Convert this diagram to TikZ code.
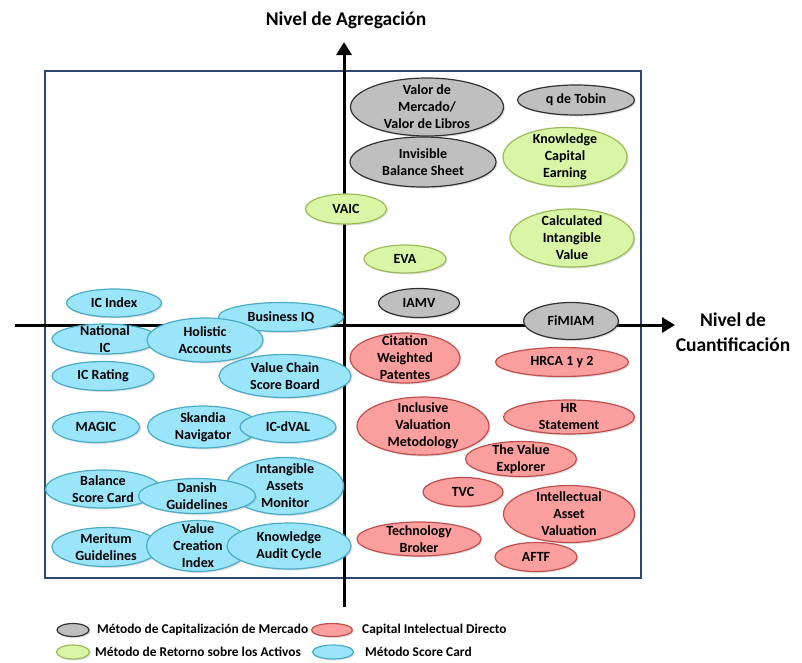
\documentclass[tikz,border=0pt]{standalone}
\usepackage{fontspec}
\setmainfont{Carlito}
\usetikzlibrary{shapes.geometric,shadows,arrows.meta}

\definecolor{grisfill}{RGB}{191,191,191}
\definecolor{grisdraw}{RGB}{50,50,50}
\definecolor{verdefill}{RGB}{217,246,166}
\definecolor{verdedraw}{RGB}{155,187,89}
\definecolor{rojofill}{RGB}{250,158,158}
\definecolor{rojodraw}{RGB}{192,80,77}
\definecolor{azulfill}{RGB}{155,229,250}
\definecolor{azuldraw}{RGB}{75,172,198}
\definecolor{marcoazul}{RGB}{46,74,110}

\tikzset{
  metodo/.style={ellipse, line width=1.2pt, inner sep=0pt,
    drop shadow={opacity=0.25, shadow xshift=1.5pt, shadow yshift=-1.5pt}},
  mercado/.style={metodo, fill=grisfill, draw=grisdraw},
  retorno/.style={metodo, fill=verdefill, draw=verdedraw},
  directo/.style={metodo, fill=rojofill, draw=rojodraw},
  score/.style={metodo, fill=azulfill, draw=azuldraw},
  txt/.style={align=center, inner sep=0pt,
    font=\fontsize{14}{17}\selectfont\bfseries},
  eje/.style={line width=3pt, -{Triangle[width=15pt,length=13pt]}},
  titulo/.style={align=center, inner sep=0pt,
    font=\fontsize{19.5}{25}\selectfont\bfseries},
  leyenda/.style={anchor=west, inner sep=0pt,
    font=\fontsize{13.4}{16}\selectfont\bfseries},
}

\begin{document}
\begin{tikzpicture}[x=1pt, y=-1pt]
    \useasboundingbox (0,0) rectangle (802,662);
    \draw[marcoazul, line width=2.6pt] (45,71) rectangle (641,578);

    \coordinate (ybot) at (344,607);
    \coordinate (ytop) at (344,42);
    \coordinate (xleft) at (15,325);
    \coordinate (xright) at (675,325);
    \draw[eje] (ybot) -- (ytop);
    \draw[eje] (xleft) -- (xright);
    \node[titulo] (agreg) at (346,20) {Nivel de Agregación};
    \node[titulo] (cuant) at (733,332) {Nivel de\\Cuantificación};

    \node[mercado, minimum width=153pt, minimum height=58pt, label={[txt]center:Valor de\\Mercado/\\Valor de Libros}] (vmvl) at (427,107) {};
    \node[mercado, minimum width=117pt, minimum height=30pt, label={[txt]center:q de Tobin}] (qtobin) at (576,100) {};
    \node[mercado, minimum width=146pt, minimum height=50pt, label={[txt]center:Invisible\\Balance Sheet}] (ibs) at (423,162) {};
    \node[mercado, minimum width=81pt, minimum height=29pt, label={[txt]center:IAMV}] (iamv) at (419,303) {};
    \node[mercado, minimum width=95pt, minimum height=37pt, label={[txt]center:FiMIAM}] (fimiam) at (571,321) {};

    \node[retorno, minimum width=124pt, minimum height=59pt, label={[txt]center:Knowledge\\Capital\\Earning}] (kce) at (565,157) {};
    \node[retorno, minimum width=81pt, minimum height=30pt, label={[txt]center:VAIC}] (vaic) at (346,209) {};
    \node[retorno, minimum width=124pt, minimum height=58pt, label={[txt]center:Calculated\\Intangible\\Value}] (civ) at (572,238) {};
    \node[retorno, minimum width=82pt, minimum height=28pt, label={[txt]center:EVA}] (eva) at (405,259) {};

    \node[directo, minimum width=110pt, minimum height=50pt, label={[txt]center:Citation\\Weighted\\Patentes}] (cwp) at (405,358) {};
    \node[directo, minimum width=133pt, minimum height=29pt, label={[txt]center:HRCA 1 y 2}] (hrca) at (562,362) {};
    \node[directo, minimum width=132pt, minimum height=58pt, label={[txt]center:Inclusive\\Valuation\\Metodology}] (ivm) at (423,426) {};
    \node[directo, minimum width=131pt, minimum height=34pt, label={[txt]center:HR\\Statement}] (hrs) at (569,417) {};
    \node[directo, minimum width=111pt, minimum height=35pt, label={[txt]center:The Value\\Explorer}] (tve) at (521,459) {};
    \node[directo, minimum width=80pt, minimum height=29pt, label={[txt]center:TVC}] (tvc) at (463,492) {};
    \node[directo, minimum width=131pt, minimum height=57pt, label={[txt]center:Intellectual\\Asset\\Valuation}] (iav) at (569,514) {};
    \node[directo, minimum width=124pt, minimum height=34pt, label={[txt]center:Technology\\Broker}] (tb) at (419,539) {};
    \node[directo, minimum width=82pt, minimum height=29pt, label={[txt]center:AFTF}] (aftf) at (536,557) {};

    \node[score, minimum width=95pt, minimum height=28pt, label={[txt]center:IC Index}] (icindex) at (114,303) {};
    \node[score, minimum width=125pt, minimum height=29pt, label={[txt]center:Business IQ}] (biq) at (281,317) {};
    \node[score, minimum width=106pt, minimum height=30pt, label={[txt]center:National\\IC}] (nic) at (105,339) {};
    \node[score, minimum width=116pt, minimum height=44pt, label={[txt]center:Holistic\\Accounts}] (ha) at (205,340) {};
    \node[score, minimum width=102pt, minimum height=29pt, label={[txt]center:IC Rating}] (icr) at (103,376) {};
    \node[score, minimum width=132pt, minimum height=43pt, label={[txt]center:Value Chain\\Score Board}] (vcsb) at (285,376) {};
    \node[score, minimum width=87pt, minimum height=31pt, label={[txt]center:MAGIC}] (magic) at (96,427) {};
    \node[score, minimum width=111pt, minimum height=42pt, label={[txt]center:Skandia\\Navigator}] (sn) at (203,427) {};
    \node[score, minimum width=96pt, minimum height=31pt, label={[txt]center:IC-dVAL}] (icdval) at (288,427) {};
    \node[score, minimum width=115pt, minimum height=38pt, label={[txt]center:Balance\\Score Card}] (bsc) at (103,489) {};
    \node[score, minimum width=117pt, minimum height=57pt, label={[txt]center:Intangible\\Assets\\Monitor}] (iam) at (285,486) {};
    \node[score, minimum width=117pt, minimum height=35pt, label={[txt]center:Danish\\Guidelines}] (dg) at (197,496) {};
    \node[score, minimum width=108pt, minimum height=39pt, label={[txt]center:Meritum\\Guidelines}] (mg) at (106,547) {};
    \node[score, minimum width=103pt, minimum height=51pt, label={[txt]center:Value\\Creation\\Index}] (vci) at (198,546) {};
    \node[score, minimum width=124pt, minimum height=46pt, label={[txt]center:Knowledge\\Audit Cycle}] (kac) at (289,546) {};

    \node[mercado, minimum width=32pt, minimum height=13pt] (legmerc) at (73,630) {};
    \node[leyenda] (txtmerc) at (97,630) {Método de Capitalización de Mercado};
    \node[directo, minimum width=41pt, minimum height=13pt] (legdir) at (332,630) {};
    \node[leyenda] (txtdir) at (362,630) {Capital Intelectual Directo};
    \node[retorno, minimum width=33pt, minimum height=14pt] (legret) at (73,652) {};
    \node[leyenda] (txtret) at (95,652) {Método de Retorno sobre los Activos};
    \node[score, minimum width=41pt, minimum height=14pt] (legsc) at (333,652) {};
    \node[leyenda] (txtsc) at (365,652) {Método Score Card};
\end{tikzpicture}
\end{document}
